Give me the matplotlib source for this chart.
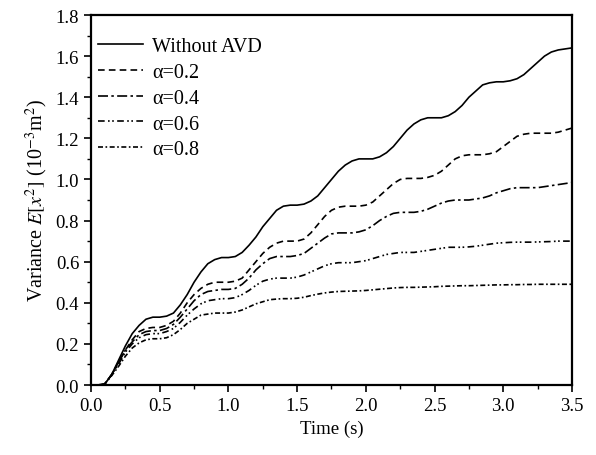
import matplotlib
matplotlib.use("Agg")
import matplotlib.pyplot as plt
from matplotlib.ticker import MultipleLocator, FormatStrFormatter
import numpy as np

plt.rcParams['font.family'] = ['Liberation Serif', 'DejaVu Serif']
plt.rcParams['mathtext.fontset'] = 'stix'

time = np.round(np.arange(0, 3.5001, 0.05), 2)

without_avd = [0.00, 0.00, 0.005, 0.05, 0.12, 0.19, 0.25, 0.29, 0.32, 0.33,
               0.33, 0.335, 0.35, 0.39, 0.44, 0.50, 0.55, 0.59, 0.61, 0.62,
               0.62, 0.625, 0.645, 0.68, 0.72, 0.77, 0.81, 0.85, 0.87, 0.875,
               0.875, 0.88, 0.895, 0.92, 0.96, 1.00, 1.04, 1.07, 1.09, 1.10,
               1.10, 1.10, 1.11, 1.13, 1.16, 1.20, 1.24, 1.27, 1.29, 1.30,
               1.30, 1.30, 1.31, 1.33, 1.36, 1.40, 1.43, 1.46, 1.47, 1.475,
               1.475, 1.48, 1.49, 1.51, 1.54, 1.57, 1.60, 1.62, 1.63, 1.635,
               1.64]

alpha_02 = [0.00, 0.00, 0.005, 0.05, 0.11, 0.17, 0.22, 0.26, 0.275, 0.28,
            0.28, 0.29, 0.31, 0.35, 0.40, 0.44, 0.47, 0.49, 0.50, 0.50,
            0.50, 0.505, 0.52, 0.56, 0.60, 0.64, 0.67, 0.69, 0.70, 0.70,
            0.70, 0.71, 0.74, 0.78, 0.82, 0.85, 0.865, 0.87, 0.87, 0.87,
            0.875, 0.89, 0.92, 0.95, 0.98, 1.00, 1.005, 1.005, 1.005, 1.01,
            1.02, 1.04, 1.07, 1.10, 1.115, 1.12, 1.12, 1.12, 1.125, 1.135,
            1.16, 1.185, 1.21, 1.22, 1.225, 1.225, 1.225, 1.225, 1.23, 1.24,
            1.25]

alpha_04 = [0.00, 0.00, 0.005, 0.05, 0.11, 0.17, 0.21, 0.245, 0.26, 0.265,
            0.265, 0.275, 0.295, 0.33, 0.37, 0.41, 0.44, 0.455, 0.46, 0.465,
            0.465, 0.47, 0.49, 0.52, 0.56, 0.59, 0.615, 0.625, 0.625, 0.625,
            0.63, 0.64, 0.665, 0.69, 0.715, 0.735, 0.74, 0.74, 0.74, 0.745,
            0.755, 0.775, 0.80, 0.82, 0.835, 0.84, 0.84, 0.84, 0.845, 0.855,
            0.87, 0.885, 0.895, 0.90, 0.90, 0.90, 0.905, 0.91, 0.92, 0.935,
            0.945, 0.955, 0.96, 0.96, 0.96, 0.96, 0.965, 0.97, 0.975, 0.98,
            0.985]

alpha_06 = [0.00, 0.00, 0.005, 0.05, 0.10, 0.16, 0.20, 0.23, 0.245, 0.25,
            0.25, 0.26, 0.275, 0.305, 0.34, 0.37, 0.395, 0.41, 0.415, 0.42,
            0.42, 0.425, 0.44, 0.46, 0.485, 0.505, 0.515, 0.52, 0.52, 0.52,
            0.525, 0.535, 0.55, 0.565, 0.58, 0.59, 0.595, 0.595, 0.595, 0.60,
            0.605, 0.615, 0.625, 0.635, 0.64, 0.645, 0.645, 0.645, 0.65, 0.655,
            0.66, 0.665, 0.67, 0.67, 0.67, 0.672, 0.675, 0.68, 0.685, 0.69,
            0.692, 0.694, 0.695, 0.695, 0.695, 0.696, 0.697, 0.698, 0.70, 0.70,
            0.70]

alpha_08 = [0.00, 0.00, 0.005, 0.045, 0.09, 0.14, 0.18, 0.205, 0.22, 0.225,
            0.225, 0.23, 0.245, 0.27, 0.30, 0.32, 0.34, 0.345, 0.35, 0.35,
            0.35, 0.355, 0.365, 0.38, 0.395, 0.405, 0.415, 0.418, 0.42, 0.42,
            0.422, 0.427, 0.435, 0.442, 0.448, 0.452, 0.455, 0.456, 0.457, 0.458,
            0.46, 0.463, 0.466, 0.469, 0.472, 0.474, 0.475, 0.475, 0.476, 0.477,
            0.478, 0.48, 0.481, 0.482, 0.483, 0.483, 0.484, 0.485, 0.486, 0.487,
            0.487, 0.488, 0.488, 0.489, 0.489, 0.49, 0.49, 0.49, 0.49, 0.49,
            0.49]

labels = ['Without AVD', 'α=0.2', 'α=0.4', 'α=0.6', 'α=0.8']
series = [without_avd, alpha_02, alpha_04, alpha_06, alpha_08]
styles = ['-', (0, (4, 2.5)), (0, (6, 2, 1.5, 2)), (0, (4, 2, 1, 1.5, 1, 2)), (0, (3, 1.5, 1, 1.5))]

fig = plt.figure(figsize=(5.96, 4.56), dpi=100)
ax = fig.add_axes([0.1527, 0.1535, 0.8070, 0.8114])

for y, lab, ls in zip(series, labels, styles):
    ax.plot(time, y, color='black', linestyle=ls, linewidth=1.2, label=lab)

ax.set_xlim(0, 3.5)
ax.set_ylim(0, 1.8)
ax.xaxis.set_major_locator(MultipleLocator(0.5))
ax.xaxis.set_minor_locator(MultipleLocator(0.25))
ax.yaxis.set_major_locator(MultipleLocator(0.2))
ax.yaxis.set_minor_locator(MultipleLocator(0.1))
ax.xaxis.set_major_formatter(FormatStrFormatter('%.1f'))
ax.yaxis.set_major_formatter(FormatStrFormatter('%.1f'))
ax.tick_params(which='major', direction='out', length=5, width=1.2, labelsize=13.5)
ax.tick_params(which='minor', direction='out', length=3, width=1.0)
for s in ax.spines.values():
    s.set_linewidth(1.6)

ax.set_xlabel('Time (s)', fontsize=13.5)
ax.set_ylabel(r'Variance $E[x^2]$ (10$^{-3}$m$^2$)', fontsize=14.5)

ax.legend(loc='upper left', bbox_to_anchor=(0.002, 0.958), frameon=False,
          fontsize=14.5, handlelength=2.25, labelspacing=0.34, borderaxespad=0,
          borderpad=0.3, handletextpad=0.45)

fig.savefig('out.png', dpi=100)
